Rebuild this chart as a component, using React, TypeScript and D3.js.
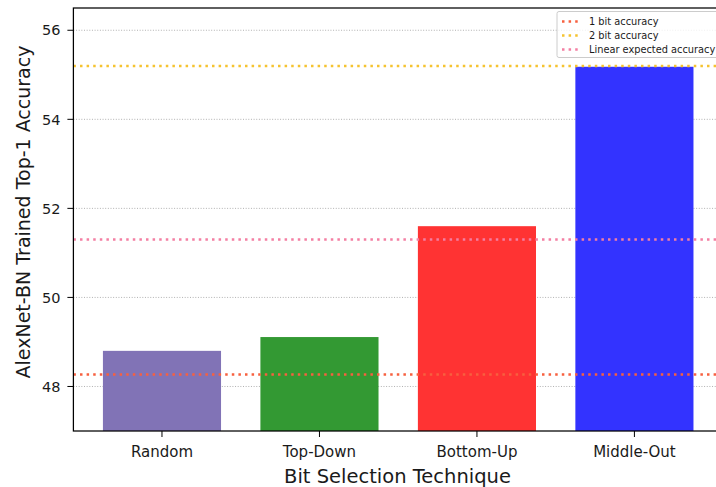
import React from "react";
import * as d3 from "d3";

const categories = ["Random", "Top-Down", "Bottom-Up", "Middle-Out"];
const values = [48.8, 49.11, 51.6, 55.18];
const barColors = ["#8173b6", "#339933", "#ff3333", "#3333ff"];
const yTicks = [48, 50, 52, 54, 56];
const refLabels = ["1 bit accuracy", "2 bit accuracy", "Linear expected accuracy"];
const refValues = [48.27, 55.2, 51.3];
const refColors = ["#f7603f", "#f5c330", "#f47fa3"];

const W = 716;
const H = 487;
const left = 73.4;
const right = 723;
const top = 8;
const bottom = 431;

export default function App() {
  const x = d3.scaleLinear().domain([-0.5625, 3.5625]).range([left, right]);
  const y = d3.scaleLinear().domain([47.0, 56.5]).range([bottom, top]);
  const bw = x(0.375) - x(0);
  const font = "DejaVu Sans, sans-serif";
  return (
    <svg width={W} height={H} style={{ position: "absolute", left: 0, top: 0 }} fontFamily={font}>
      <rect width={W} height={H} fill="#fff" />
      {yTicks.map((t) => (
        <line key={"g" + t} x1={left} x2={right} y1={y(t)} y2={y(t)} stroke="#b0b0b0" strokeWidth={1} strokeDasharray="1,1.65" />
      ))}
      {categories.map((c, i) => (
        <rect key={c} x={x(i) - bw} width={bw * 2} y={y(values[i])} height={bottom - y(values[i])} fill={barColors[i]} />
      ))}
      {refValues.map((v, i) => (
        <line key={"r" + i} x1={left} x2={right} y1={y(v)} y2={y(v)} stroke={refColors[i]} strokeWidth={2.5} strokeDasharray="2.5,4.1" />
      ))}
      <rect x={left} y={top} width={right - left} height={bottom - top} fill="none" stroke="#000" strokeWidth={1.25} />
      {yTicks.map((t) => (
        <g key={"yt" + t}>
          <line x1={left - 6} x2={left} y1={y(t)} y2={y(t)} stroke="#000" strokeWidth={1} />
          <text x={left - 13} y={y(t)} dy="0.36em" textAnchor="end" fontSize={14.5} fill="#1a1a1a">{t}</text>
        </g>
      ))}
      {categories.map((c, i) => (
        <g key={"xt" + c}>
          <line x1={x(i)} x2={x(i)} y1={bottom} y2={bottom + 6} stroke="#000" strokeWidth={1} />
          <text x={x(i)} y={457} textAnchor="middle" fontSize={15} fill="#1a1a1a">{c}</text>
        </g>
      ))}
      <text x={397.5} y={483} textAnchor="middle" fontSize={19.5} fill="#1a1a1a">Bit Selection Technique</text>
      <text transform={`translate(30,212) rotate(-90)`} textAnchor="middle" fontSize={19} fill="#1a1a1a">AlexNet-BN Trained Top-1 Accuracy</text>
      <g>
        <rect x={557} y={11.5} width={170} height={46} rx={2} fill="#fff" fillOpacity={0.8} stroke="#cccccc" strokeWidth={1} />
        {refLabels.map((l, i) => (
          <g key={l}>
            <line x1={562} x2={581} y1={21.5 + i * 14} y2={21.5 + i * 14} stroke={refColors[i]} strokeWidth={2.5} strokeDasharray="2.5,4.1" />
            <text x={589} y={21.5 + i * 14} dy="0.36em" fontSize={9.8} fill="#1a1a1a">{l}</text>
          </g>
        ))}
      </g>
    </svg>
  );
}
